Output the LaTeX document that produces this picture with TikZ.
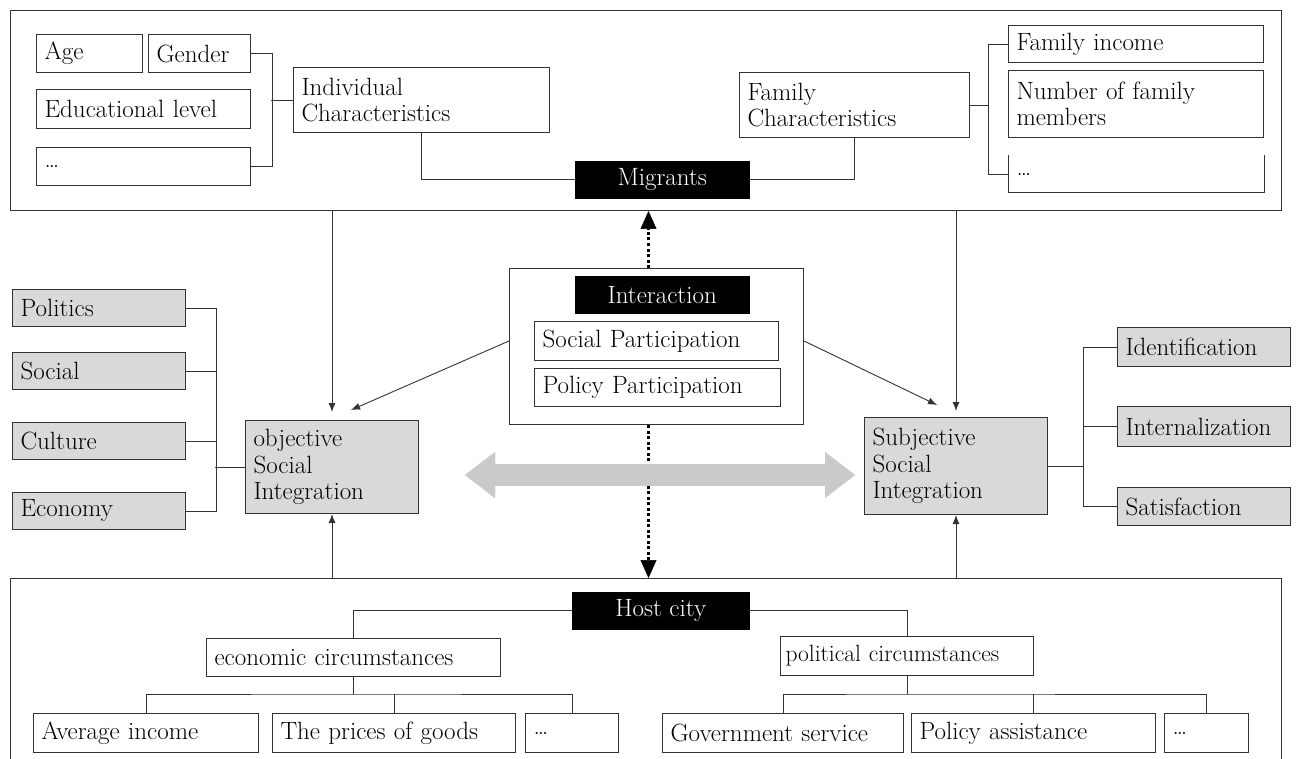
\documentclass[tikz,border=0pt]{standalone}
\usetikzlibrary{arrows.meta}
\definecolor{boxgray}{HTML}{D9D9D9}
\definecolor{arrgray}{HTML}{CACACA}
\definecolor{lc}{HTML}{333333}
\begin{document}
\begin{tikzpicture}[x=1pt,y=-1pt,
  font=\fontsize{25}{26.5}\selectfont,
  bx/.style={draw=lc, line width=1pt, inner xsep=8pt, inner ysep=0pt, anchor=north west, align=left},
  gbx/.style={bx, fill=boxgray},
  blk/.style={fill=black, draw=black, text=white, anchor=north west, minimum height=37pt, inner sep=0pt},
  frame/.style={draw=lc, line width=1pt, anchor=north west, inner sep=0pt},
  ln/.style={draw=lc, line width=0.9pt},
  arr/.style={ln, -{Latex[length=9pt,width=7pt]}},
  dotarr/.style={draw=black, line width=3pt, dash pattern=on 3pt off 2.5pt, -{Triangle[length=18pt,width=16pt,line width=0.5pt]}},
]
\useasboundingbox (0,0) rectangle (1297,759);
\fill[white] (0,0) rectangle (1297,759);

% ---------- top frame (migrants) ----------
\node[frame, minimum width=1271pt, minimum height=200pt] (migbox) at (10,10) {};
\node[bx, text width=90pt, minimum height=38pt] (age) at (36,34) {Age};
\node[bx, text width=86pt, minimum height=38pt] (gender) at (148,34) {Gender};
\node[bx, text width=198pt, minimum height=39pt] (edu) at (36,89) {Educational level};
\node[bx, text width=198pt, minimum height=38pt] (dotsa) at (36,147) {\dots};
\node[bx, text width=240pt, minimum height=65pt] (indiv) at (293,67) {Individual\\Characteristics};
\node[blk, minimum width=174pt] (migrants) at (575,161) {Migrants};
\node[bx, text width=214pt, minimum height=65pt] (family) at (739,72) {Family\\Characteristics};
\node[bx, text width=239pt, minimum height=37pt] (faminc) at (1008,25) {Family income};
\node[bx, text width=239pt, minimum height=67pt] (fammem) at (1008,70) {Number of family\\members};
\node[bx, draw=none, text width=239pt, minimum height=37pt] (dotsb) at (1008,155) {\dots};
\draw[ln, line width=1pt] (dotsb.north west) -- (dotsb.south west) -- (dotsb.south east) -- (dotsb.north east);

\draw[ln] (gender.east) -- ++(21,0) |- (dotsa.east);
\draw[ln] (indiv.west) -- ++(-22,0);
\draw[ln] (indiv.south) |- (migrants.west);
\draw[ln] (family.south) |- (migrants.east);
\draw[ln] (faminc.west) -- ++(-20,0) |- (dotsb.west);
\draw[ln] (family.east) -- ++(19,0);

% ---------- middle ----------
\node[frame, minimum width=294pt, minimum height=156pt] (interbox) at (509,268) {};
\node[blk, minimum width=174pt] (interaction) at (575,276) {Interaction};
\node[bx, text width=228pt, minimum height=39pt] (socpart) at (534,321) {Social Participation};
\node[bx, text width=230pt, minimum height=38pt] (polpart) at (534,368) {Policy Participation};

\node[gbx, text width=157pt, minimum height=93pt] (objective) at (245,420) {objective\\Social\\Integration};
\node[gbx, text width=157pt, minimum height=37pt] (politics) at (12,289) {Politics};
\node[gbx, text width=157pt, minimum height=37pt] (social) at (12,352) {Social};
\node[gbx, text width=157pt, minimum height=37pt] (culture) at (12,422) {Culture};
\node[gbx, text width=157pt, minimum height=37pt] (economy) at (12,492) {Economy};

\node[gbx, text width=167pt, minimum height=97pt] (subjective) at (864,417) {Subjective\\Social\\Integration};
\node[gbx, text width=157pt, minimum height=39pt] (ident) at (1117,327) {Identification};
\node[gbx, text width=157pt, minimum height=40pt] (intern) at (1117,406) {Internalization};
\node[gbx, text width=157pt, minimum height=38pt] (satis) at (1117,487) {Satisfaction};

\draw[ln] (politics.east) -- ++(30,0) |- (economy.east);
\draw[ln] (social.east) -- ++(30,0);
\draw[ln] (culture.east) -- ++(30,0);
\draw[ln] (objective.west) -- ++(-30,0);

\draw[ln] (ident.west) -- ++(-34,0) |- (satis.west);
\draw[ln] (intern.west) -- ++(-34,0);
\draw[ln] (subjective.east) -- ++(36,0);

\coordinate (hosttop) at (0,578);
\coordinate (oa) at (351,410);
\coordinate (sa) at (937,405);
\coordinate (ga) at (465,475);
\coordinate (gb) at (855,475);

\draw[arr] (objective.north |- migbox.south) -- ([yshift=8pt]objective.north);
\draw[arr] (subjective.north |- migbox.south) -- ([yshift=6pt]subjective.north);
\draw[arr] (objective.south |- hosttop) -- (objective.south);
\draw[arr] (subjective.south |- hosttop) -- (subjective.south);
\draw[arr] (interbox.west |- socpart.west) -- (oa);
\draw[arr] (interbox.east |- socpart.east) -- (sa);

\draw[dotarr] ([xshift=-8pt]interbox.north) -- ([xshift=-8pt]interbox.north |- migbox.south);
\draw[dotarr] ([xshift=-8pt]interbox.south) -- ([xshift=-8pt]interbox.south |- hosttop);

\draw[arrgray, line width=22pt, {Triangle[length=30pt,width=46pt,line width=0.01pt]}-{Triangle[length=30pt,width=46pt,line width=0.01pt]}] (ga) -- (gb);

% ---------- bottom frame (host city) ----------
\draw[ln, line width=1pt] (10,762) -- (hosttop -| 10,0) -- (hosttop -| 1281,0) -- (1281,762);
\node[blk, minimum width=177pt] (hostcity) at (572,592) {Host city};
\node[bx, text width=278pt, minimum height=38pt] (econ) at (206,638) {economic circumstances};
\node[bx, inner xsep=5pt, text width=243pt, minimum height=39pt, font=\fontsize{23.5}{26}\selectfont] (polit) at (780,636) {political circumstances};
\node[bx, text width=209pt, minimum height=39pt] (avginc) at (33,713) {Average income};
\node[bx, text width=227pt, minimum height=39pt] (prices) at (272,713) {The prices of goods};
\node[bx, text width=77pt, minimum height=39pt] (dotsc) at (525,713) {\dots};
\node[bx, text width=225pt, minimum height=39pt] (govt) at (662,713) {Government service};
\node[bx, text width=228pt, minimum height=39pt] (polass) at (911,713) {Policy assistance};
\node[bx, text width=68pt, minimum height=39pt] (dotsd) at (1164,713) {\dots};

\draw[ln] (hostcity.west) -| (econ.north);
\draw[ln] (hostcity.east) -| (polit.north);
\draw[ln] (econ.south) -- ++(0,17) coordinate (e1);
\draw[ln] (avginc.north) |- (e1) -| (dotsc.north);
\draw[ln] (prices.north) -- (prices.north |- e1);
\draw[ln] (polit.south) -- ++(0,18) coordinate (p1);
\draw[ln] (govt.north) |- (p1) -| (dotsd.north);
\draw[ln] (polass.north) -- (polass.north |- p1);
\end{tikzpicture}
\end{document}
